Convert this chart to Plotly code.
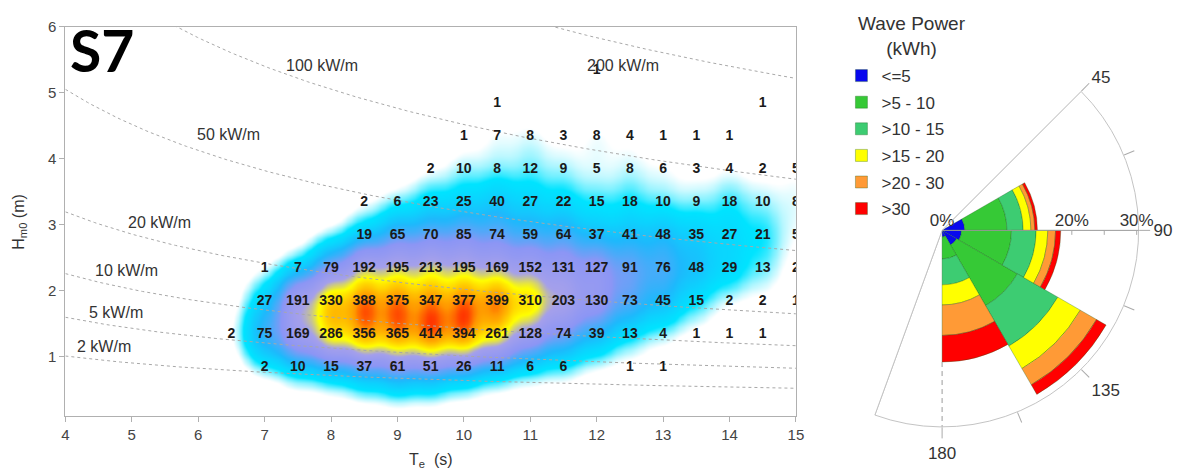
import numpy as np
import plotly.graph_objects as go

# ---------------- data ----------------
te_bins = [6.5, 7, 7.5, 8, 8.5, 9, 9.5, 10, 10.5, 11, 11.5, 12, 12.5, 13, 13.5, 14, 14.5, 15]
hm0_bins = [0.83, 1.33, 1.83, 2.33, 2.83, 3.33, 3.83, 4.33, 4.83, 5.33]
N = None
row_083 = [N, 2, 10, 15, 37, 61, 51, 26, 11, 6, 6, N, 1, 1, N, N, N, N]
row_133 = [2, 75, 169, 286, 356, 365, 414, 394, 261, 128, 74, 39, 13, 4, 1, 1, 1, N]
row_183 = [N, 27, 191, 330, 388, 375, 347, 377, 399, 310, 203, 130, 73, 45, 15, 2, 2, 1]
row_233 = [N, 1, 7, 79, 192, 195, 213, 195, 169, 152, 131, 127, 91, 76, 48, 29, 13, 2]
row_283 = [N, N, N, N, 19, 65, 70, 85, 74, 59, 64, 37, 41, 48, 35, 27, 21, 5]
row_333 = [N, N, N, N, 2, 6, 23, 25, 40, 27, 22, 15, 18, 10, 9, 18, 10, 8]
row_383 = [N, N, N, N, N, N, 2, 10, 8, 12, 9, 5, 8, 6, 3, 4, 2, 5]
row_433 = [N, N, N, N, N, N, N, 1, 7, 8, 3, 8, 4, 1, 1, 1, N, N]
row_483 = [N, N, N, N, N, N, N, N, 1, N, N, N, N, N, N, N, 1, N]
row_533 = [N, N, N, N, N, N, N, N, N, N, N, 1, N, N, N, N, N, N]
count_rows = [row_083, row_133, row_183, row_233, row_283, row_333, row_383, row_433, row_483, row_533]

power_levels = [2, 5, 10, 20, 50, 100, 200]          # kW/m iso-power lines
power_labels = ["2 kW/m", "5 kW/m", "10 kW/m", "20 kW/m", "50 kW/m", "100 kW/m", "200 kW/m"]

# wave rose (direction sectors, % occurrence per power class)
rose_dirs = [75, 105, 135, 165]
rose_classes = ["<=5", ">5 - 10", ">10 - 15", ">15 - 20", ">20 - 30", ">30"]
rose_le5 = [3.5, 3.0, 2.6, 1.0]
rose_5_10 = [6.5, 7.7, 10.8, 3.4]
rose_10_15 = [2.5, 3.8, 7.2, 4.0]
rose_15_20 = [1.2, 1.8, 4.0, 3.1]
rose_20_30 = [0.6, 1.2, 2.9, 4.7]
rose_gt30 = [0.4, 0.8, 1.7, 4.1]
rose_values = [rose_le5, rose_5_10, rose_10_15, rose_15_20, rose_20_30, rose_gt30]
rose_colors = ["#0808ee", "#36c936", "#3dcc72", "#ffff00", "#ff9a36", "#ff0000"]
radial_ticks = [0, 20, 30]

W, H = 1187, 473
fig = go.Figure()

# ---------------- density surface from the counts ----------------
tx = np.linspace(4, 15, 221)
hy = np.linspace(0.1, 6, 119)
TT, HH = np.meshgrid(tx, hy)
sx, sy = 0.22, 0.3
dens = np.zeros_like(TT)
for hv, row in zip(hm0_bins, count_rows):
    for tv, c in zip(te_bins, row):
        if c:
            dens += c * np.exp(-((TT - tv) ** 2 / (2 * sx ** 2) + (HH - hv) ** 2 / (2 * sy ** 2)))
z = dens / dens.max()

cscale = [
    [0.0, "rgb(255,255,255)"],
    [0.014, "rgb(255,255,255)"],
    [0.046, "rgb(0,228,255)"],
    [0.125, "rgb(30,185,252)"],
    [0.25, "rgb(140,150,245)"],
    [0.45, "rgb(165,160,235)"],
    [0.6, "rgb(255,255,0)"],
    [0.84, "rgb(255,150,0)"],
    [1.0, "rgb(255,0,0)"],
]
fig.add_trace(go.Heatmap(x=tx, y=hy, z=z, colorscale=cscale, zmin=0, zmax=1.06,
                         zsmooth="best", showscale=False, hoverinfo="skip",
                         xaxis="x", yaxis="y"))

# iso-power lines P = 0.49 Hm0^2 Te
te_line = np.linspace(4, 15, 200)
for p in power_levels:
    fig.add_trace(go.Scatter(x=te_line, y=np.sqrt(p / (0.49 * te_line)), mode="lines",
                             line=dict(color="#a8a8a8", width=1, dash="3px,3px"),
                             showlegend=False, hoverinfo="skip"))

# counts as text
xs, ys, ts = [], [], []
for hv, row in zip(hm0_bins, count_rows):
    for tv, c in zip(te_bins, row):
        if c is not None:
            xs.append(tv); ys.append(hv); ts.append(str(c))
fig.add_trace(go.Scatter(x=xs, y=ys, text=ts, mode="text", showlegend=False,
                         textfont=dict(family="Liberation Sans, Arial", size=14, color="#1a1a1a",
                                       weight="bold"),
                         hoverinfo="skip"))

# ---------------- wave rose ----------------
rmax = 30.3
fig.add_trace(go.Scatterpolar(r=[0, rmax], theta=[45, 45], mode="lines",
                              line=dict(color="#bdbdbd", width=1), showlegend=False, hoverinfo="skip"))
fig.add_trace(go.Scatterpolar(r=[0, rmax], theta=[200, 200], mode="lines",
                              line=dict(color="#bdbdbd", width=1), showlegend=False, hoverinfo="skip"))
d_total = sum(v[3] for v in rose_values)
fig.add_trace(go.Scatterpolar(r=[d_total, rmax], theta=[180, 180], mode="lines",
                              line=dict(color="#9a9a9a", width=1, dash="5px,4px"),
                              showlegend=False, hoverinfo="skip"))
for name, vals, col in zip(rose_classes, rose_values, rose_colors):
    fig.add_trace(go.Barpolar(r=vals, theta=rose_dirs, width=[30] * len(rose_dirs), name=name,
                              legendgroup=name,
                              marker=dict(color=col, line=dict(color="rgba(20,90,20,0.45)", width=0.7)),
                              hoverinfo="skip"))
fig.add_trace(go.Scatterpolar(r=radial_ticks, theta=[90] * len(radial_ticks), mode="text",
                              text=[f"{v}%" for v in radial_ticks], textposition="top center",
                              textfont=dict(family="Liberation Sans, Arial", size=17, color="#333"),
                              showlegend=False, hoverinfo="skip"))

# ---------------- layout ----------------
ann = []
lab_pos = {"2 kW/m": (4.58, 1.15), "5 kW/m": (4.76, 1.67), "10 kW/m": (4.92, 2.31),
           "20 kW/m": (5.42, 3.03), "50 kW/m": (6.46, 4.37), "100 kW/m": (7.86, 5.41),
           "200 kW/m": (12.4, 5.41)}
for lab in power_labels:
    x0, y0 = lab_pos[lab]
    ann.append(dict(x=x0, y=y0, xref="x", yref="y", text=lab, showarrow=False,
                    font=dict(family="Liberation Sans, Arial", size=16, color="#333")))
ann.append(dict(x=4.04, y=5.64, xref="x", yref="y", text="S7", showarrow=False, xanchor="left",
                yanchor="middle", font=dict(family="Lato, Liberation Sans", size=57, color="#000", weight="bold")))
ann.append(dict(x=431 / W, y=1 / H, xref="paper", yref="paper", text="T<sub>e</sub>  (s)",
                yanchor="bottom", showarrow=False,
                font=dict(family="Liberation Sans, Arial", size=16, color="#333")))
ann.append(dict(x=16 / W, y=(H - 217) / H, xref="paper", yref="paper", text="H<sub>m0</sub> (m)",
                textangle=-90, showarrow=False, xanchor="center",
                font=dict(family="Liberation Sans, Arial", size=16, color="#333")))
ann.append(dict(x=917 / W, y=(H - 2) / H, xref="paper", yref="paper", text="Wave Power<br>(kWh)",
                xanchor="center", yanchor="top", showarrow=False, align="center",
                font=dict(family="Liberation Sans, Arial", size=19, color="#333")))

axis_common = dict(showgrid=False, zeroline=False, showline=True, linecolor="#b0b0b0", mirror=True,
                   ticks="outside", ticklen=5, tickcolor="#b0b0b0",
                   tickfont=dict(family="Liberation Sans, Arial", size=15, color="#444"))

fig.update_layout(
    width=W, height=H, margin=dict(l=0, r=0, t=0, b=0),
    paper_bgcolor="white", plot_bgcolor="white",
    xaxis=dict(domain=[62 / W, 800 / W], range=[4, 15], tickvals=list(range(4, 16)), **axis_common),
    yaxis=dict(domain=[(H - 415) / H, (H - 18) / H], range=[0.1, 6], tickvals=[1, 2, 3, 4, 5, 6], **axis_common),
    polar=dict(
        domain=dict(x=[879 / W, 1147 / W], y=[(H - 426) / H, (H - 84) / H]),
        sector=[-110, 45], bgcolor="white", barmode="stack",
        angularaxis=dict(rotation=90, direction="clockwise",
                         tickvals=[45, 67.5, 90, 112.5, 135, 157.5, 180],
                         ticktext=["45", "", "90", "", "135", "", "180"],
                         ticks="outside", ticklen=11, tickcolor="#aaa",
                         showline=True, linecolor="#c4c4c4", linewidth=1, showgrid=False,
                         tickfont=dict(family="Liberation Sans, Arial", size=17, color="#333")),
        radialaxis=dict(range=[0, rmax], angle=0, showticklabels=False,
                        tickvals=[20, 25, 30], ticks="outside", ticklen=4, tickcolor="#aaa",
                        showline=True, linecolor="#9a9a9a", linewidth=1, showgrid=False),
    ),
    legend=dict(x=846 / W, y=(H - 50) / H, xanchor="left", yanchor="top",
                font=dict(family="Liberation Sans, Arial", size=17, color="#333"),
                tracegroupgap=1.5, itemwidth=30, bgcolor="rgba(0,0,0,0)"),
    annotations=ann,
)

fig.write_html("out.html")
